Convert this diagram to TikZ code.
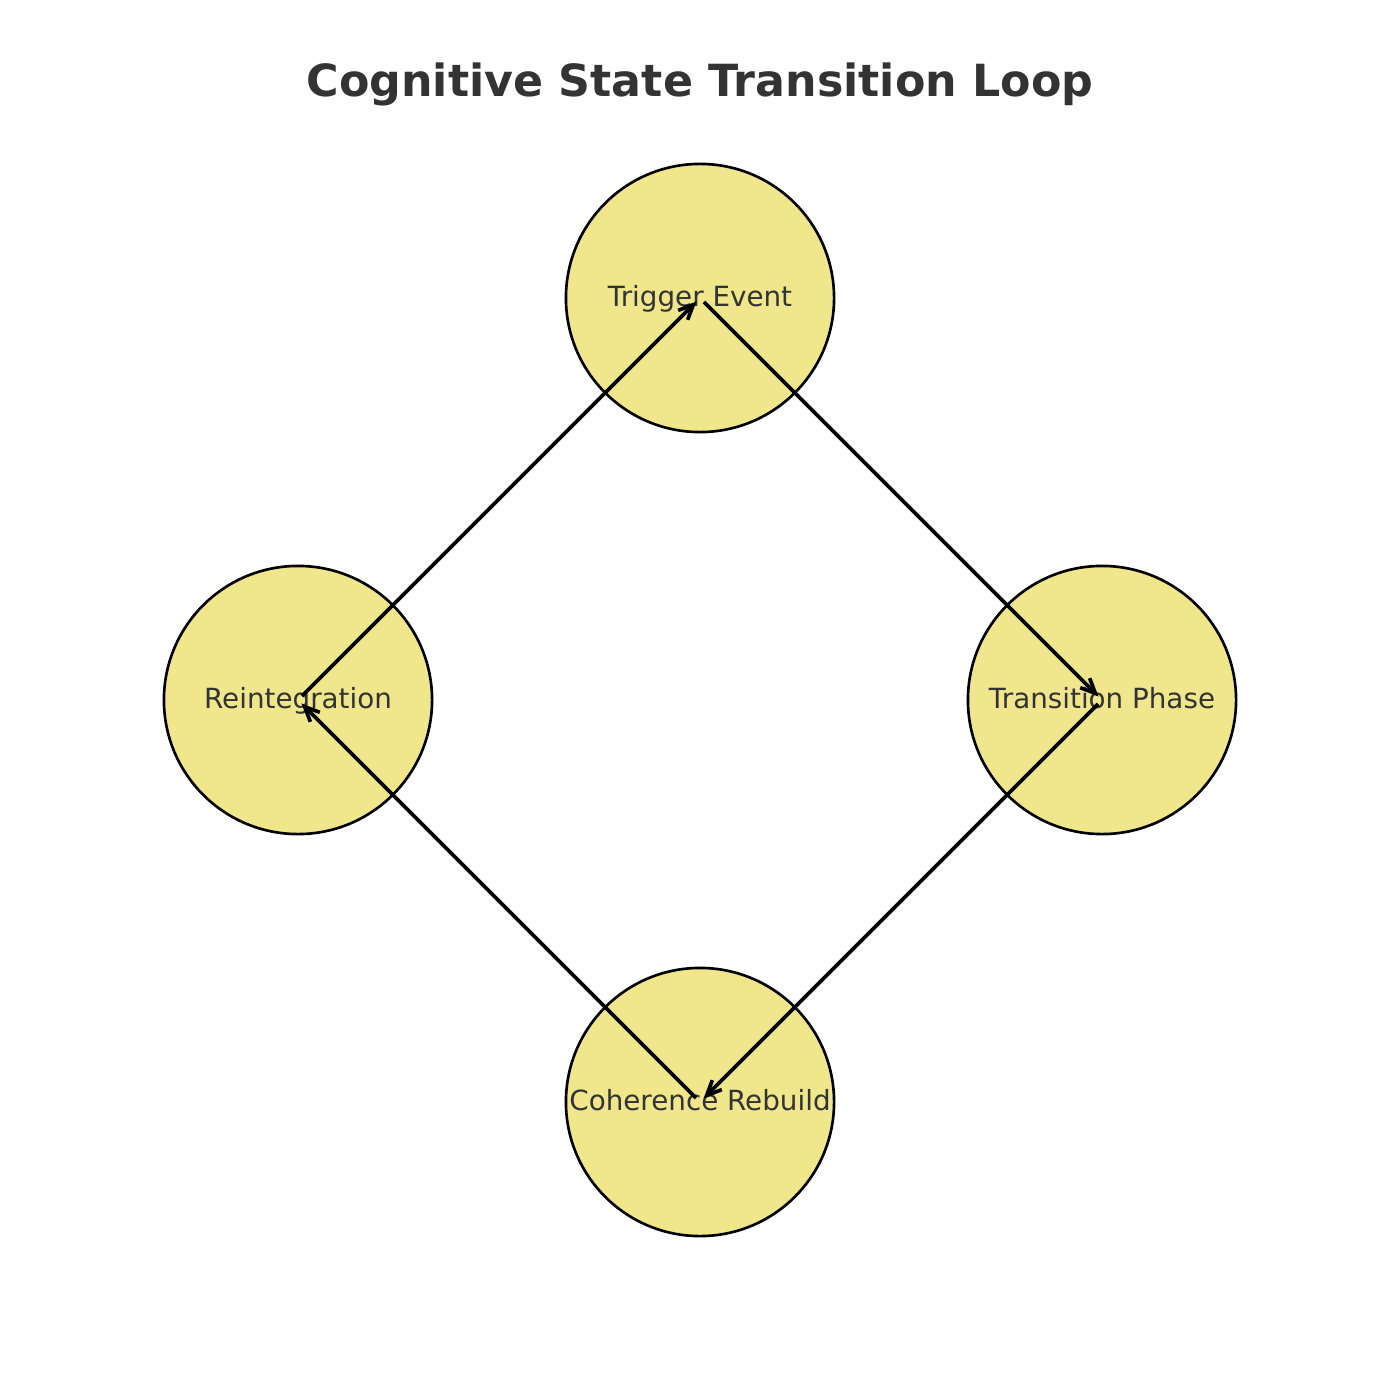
\documentclass[tikz,border=0pt]{standalone}
\usepackage{fontspec}
\setmainfont{DejaVu Sans}
\usetikzlibrary{arrows.meta}
\definecolor{khakifill}{HTML}{F0E68C}
\definecolor{txtgray}{HTML}{333333}
\begin{document}
\begin{tikzpicture}[x=0.01cm,y=-0.01cm,
  statenode/.style={circle, draw=black, line width=0.75pt, fill=khakifill, minimum size=2.68cm, inner sep=0pt},
  statelabel/.style={text=txtgray, font=\fontsize{7.9}{9}\selectfont, inner sep=0pt, anchor=base, yshift=-0.08cm},
  flow/.style={line width=1.05pt, -{Straight Barb[length=4.2pt,width=3.8pt]}, shorten <=1.6pt, shorten >=1.4pt}
]
\useasboundingbox (0,0) rectangle (1400,1400);
\node[font=\bfseries\fontsize{12.6}{15}\selectfont, text=txtgray] (title) at (700,84) {Cognitive State Transition Loop};
\node[statenode] (trig) at (700,298) {};
\node[statenode] (trans) at (1102,700) {};
\node[statenode] (coh) at (700,1102) {};
\node[statenode] (reint) at (298,700) {};
\node[statelabel] (ltrig) at (trig.center) {Trigger Event};
\node[statelabel] (ltrans) at (trans.center) {Transition Phase};
\node[statelabel] (lcoh) at (coh.center) {Coherence Rebuild};
\node[statelabel] (lreint) at (reint.center) {Reintegration};
\draw[flow] (trig.center) -- (trans.center);
\draw[flow] (trans.center) -- (coh.center);
\draw[flow] (coh.center) -- (reint.center);
\draw[flow] (reint.center) -- (trig.center);
\end{tikzpicture}
\end{document}
